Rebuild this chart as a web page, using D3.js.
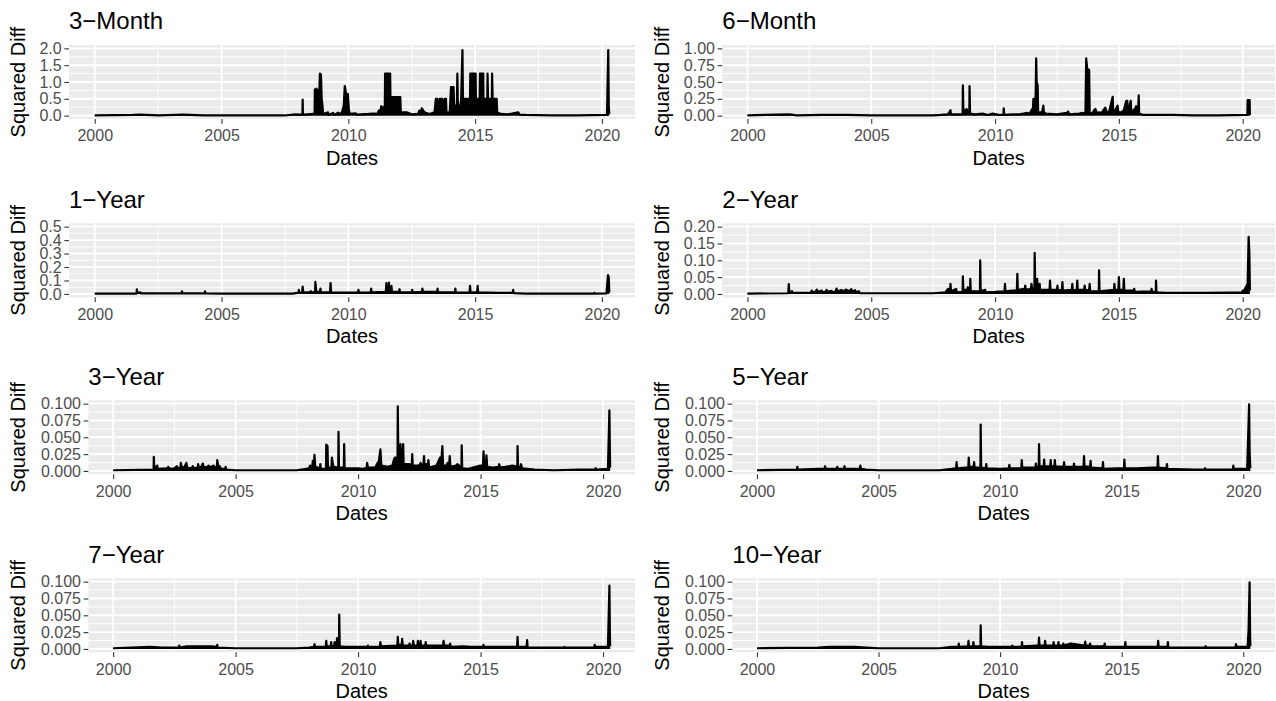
<!DOCTYPE html>
<html>
<head>
<meta charset="utf-8">
<script src="https://cdn.jsdelivr.net/npm/d3@7"></script>
<style>
  body { margin: 0; background: #fff; }
  svg { display: block; font-family: "Liberation Sans", Arial, Helvetica, sans-serif; }
</style>
</head>
<body>
<svg id="chart" width="1276" height="701"></svg>
<script>
// panel titles, in grid order (row by row, left then right)
var titles = ["3\u2212Month", "6\u2212Month", "1\u2212Year", "2\u2212Year",
              "3\u2212Year", "5\u2212Year", "7\u2212Year", "10\u2212Year"];

// x axis breaks (years)
var xBreaks = [2000, 2005, 2010, 2015, 2020];

// y axis break sets, one per panel
var yBreaks = [
    [0, 0.5, 1.0, 1.5, 2.0],
    [0, 0.25, 0.5, 0.75, 1.0],
    [0, 0.1, 0.2, 0.3, 0.4, 0.5],
    [0, 0.05, 0.1, 0.15, 0.2],
    [0, 0.025, 0.05, 0.075, 0.1],
    [0, 0.025, 0.05, 0.075, 0.1],
    [0, 0.025, 0.05, 0.075, 0.1],
    [0, 0.025, 0.05, 0.075, 0.1]
];
var yFormats = [".1f", ".2f", ".1f", ".2f", ".3f", ".3f", ".3f", ".3f"];

// squared differences, [decimal year, value]
var m3 = [[2000.0,0.01],[2001.5,0.02],[2001.8,0.03],[2002.5,0.01],[2003.5,0.03],[2004.3,0.01],[2005.0,0.005],[2007.5,0.005],[2007.9,0.04],[2008.1,0.03],
    [2008.19,0.03],[2008.2,0.48],[2008.21,0.03],[2008.4,0.04],[2008.6,0.05],
    [2008.67,0.05],[2008.68,0.78],[2008.72,0.7],[2008.75,0.8],[2008.78,0.6],[2008.82,0.75],[2008.84,0.3],[2008.86,0.8],[2008.88,1.25],[2008.92,1.22],[2008.95,0.5],[2008.98,0.3],[2009.0,0.1],[2009.02,0.05],
    [2009.2,0.1],[2009.22,0.02],[2009.4,0.08],[2009.45,0.02],[2009.6,0.09],[2009.62,0.03],[2009.75,0.1],
    [2009.82,0.3],[2009.86,0.88],[2009.9,0.7],[2009.94,0.5],[2009.98,0.65],[2010.02,0.2],[2010.05,0.05],
    [2010.3,0.07],[2010.32,0.03],[2010.5,0.04],[2010.8,0.05],[2011.0,0.06],[2011.15,0.05],[2011.2,0.15],[2011.25,0.08],[2011.3,0.28],[2011.38,0.2],
    [2011.44,0.3],[2011.45,1.25],[2011.65,1.25],[2011.66,0.55],[2012.05,0.55],[2012.07,0.1],
    [2012.3,0.1],[2012.5,0.04],[2012.75,0.05],[2012.8,0.15],[2012.85,0.08],[2012.9,0.22],[2013.0,0.1],[2013.2,0.05],[2013.4,0.1],
    [2013.45,0.5],[2013.5,0.5],[2013.52,0.3],[2013.6,0.5],[2013.7,0.5],[2013.72,0.3],[2013.8,0.5],[2013.85,0.5],[2013.87,0.1],
    [2014.0,0.1],[2014.05,0.85],[2014.15,0.85],[2014.17,0.3],[2014.28,0.3],[2014.3,1.25],[2014.32,0.3],[2014.42,0.3],[2014.45,0.5],[2014.5,1.95],[2014.52,0.5],
    [2014.8,0.5],[2014.81,1.25],[2015.02,1.25],[2015.03,0.5],[2015.18,0.5],[2015.19,1.25],[2015.32,1.25],[2015.33,0.5],[2015.48,0.5],[2015.49,1.25],[2015.51,0.5],
    [2015.66,0.5],[2015.67,1.25],[2015.69,0.5],[2015.85,0.5],[2015.87,0.1],
    [2016.0,0.05],[2016.3,0.04],[2016.7,0.1],[2016.75,0.03],[2017.0,0.02],[2018.0,0.01],[2019.0,0.01],[2020.2,0.02],[2020.25,1.95],[2020.27,0.3],[2020.29,0.05]];

var m6 = [[2000.0,0.005],[2001.7,0.02],[2002.0,0.005],[2003.0,0.01],[2004.0,0.01],[2005.0,0.003],[2007.5,0.003],[2007.8,0.01],[2008.1,0.02],[2008.2,0.08],[2008.22,0.02],[2008.4,0.02],
    [2008.69,0.02],[2008.7,0.45],[2008.72,0.1],[2008.8,0.05],[2008.85,0.1],[2008.9,0.03],[2008.96,0.03],[2008.97,0.44],[2008.99,0.03],
    [2009.2,0.02],[2009.5,0.03],[2009.7,0.01],[2009.9,0.03],[2010.2,0.01],[2010.34,0.01],[2010.35,0.11],[2010.37,0.01],[2010.7,0.02],[2011.0,0.02],[2011.3,0.04],
    [2011.4,0.03],[2011.5,0.1],[2011.52,0.05],[2011.55,0.25],[2011.58,0.12],[2011.64,0.3],[2011.66,0.85],[2011.68,0.5],[2011.72,0.45],[2011.74,0.05],[2011.9,0.05],[2011.95,0.15],[2011.97,0.05],[2012.05,0.03],
    [2012.5,0.02],[2012.9,0.04],[2012.95,0.06],[2013.0,0.02],[2013.4,0.03],[2013.5,0.04],[2013.65,0.03],[2013.68,0.85],[2013.72,0.7],[2013.8,0.68],[2013.82,0.05],[2013.9,0.02],
    [2014.0,0.08],[2014.05,0.1],[2014.1,0.04],[2014.2,0.05],[2014.3,0.04],[2014.45,0.12],[2014.5,0.06],[2014.6,0.05],[2014.75,0.28],[2014.77,0.05],[2014.85,0.08],[2014.95,0.15],[2014.98,0.05],
    [2015.1,0.05],[2015.2,0.08],[2015.3,0.22],[2015.34,0.22],[2015.36,0.05],[2015.48,0.22],[2015.5,0.05],[2015.65,0.1],[2015.7,0.14],[2015.78,0.05],[2015.8,0.3],[2015.82,0.03],
    [2016.0,0.01],[2016.5,0.01],[2017.18,0.01],[2018.0,0.003],[2019.0,0.003],[2020.19,0.01],[2020.2,0.23],[2020.28,0.23],[2020.29,0.01]];

var y1 = [[2000.0,0.003],[2001.65,0.003],[2001.66,0.035],[2001.68,0.006],[2001.8,0.012],[2001.82,0.004],[2003.43,0.004],[2003.44,0.02],[2003.46,0.004],
    [2004.34,0.004],[2004.35,0.02],[2004.37,0.004],[2005.0,0.002],[2007.8,0.002],[2008.0,0.008],[2008.04,0.008],[2008.05,0.03],[2008.07,0.01],
    [2008.18,0.01],[2008.2,0.055],[2008.22,0.012],[2008.5,0.012],[2008.52,0.02],[2008.54,0.01],[2008.69,0.015],[2008.7,0.09],[2008.72,0.05],[2008.74,0.015],
    [2008.88,0.015],[2008.9,0.04],[2008.92,0.012],[2009.28,0.012],[2009.3,0.08],[2009.32,0.012],[2009.7,0.01],[2010.38,0.01],[2010.4,0.03],[2010.42,0.01],
    [2010.88,0.01],[2010.9,0.04],[2010.92,0.012],[2011.48,0.015],[2011.5,0.08],[2011.52,0.02],[2011.58,0.02],[2011.6,0.085],[2011.62,0.02],[2011.68,0.02],
    [2011.7,0.06],[2011.72,0.015],[2012.0,0.015],[2012.02,0.035],[2012.04,0.012],[2012.5,0.012],[2012.52,0.03],[2012.54,0.012],[2012.9,0.015],[2012.92,0.04],
    [2012.94,0.015],[2013.5,0.015],[2013.52,0.04],[2013.54,0.012],[2014.2,0.012],[2014.22,0.04],[2014.24,0.01],[2014.78,0.012],[2014.8,0.06],[2014.82,0.012],
    [2015.08,0.012],[2015.1,0.06],[2015.12,0.012],[2015.5,0.01],[2015.9,0.008],[2016.48,0.008],[2016.5,0.03],[2016.52,0.006],[2017.0,0.003],[2019.0,0.003],
    [2019.68,0.003],[2019.7,0.008],[2019.72,0.003],[2020.18,0.004],[2020.24,0.14],[2020.27,0.12],[2020.29,0.01]];

var y2 = [[2000.0,0.001],[2001.65,0.002],[2001.67,0.029],[2001.69,0.004],[2001.8,0.008],[2001.82,0.003],[2002.55,0.003],[2002.6,0.01],[2002.65,0.005],
    [2002.75,0.006],[2002.8,0.013],[2002.85,0.006],[2003.0,0.01],[2003.05,0.005],[2003.15,0.006],[2003.2,0.012],[2003.25,0.006],[2003.4,0.009],[2003.45,0.005],
    [2003.55,0.007],[2003.6,0.016],[2003.65,0.007],[2003.8,0.012],[2003.85,0.007],[2004.0,0.013],[2004.05,0.007],[2004.2,0.014],[2004.25,0.006],[2004.35,0.011],
    [2004.4,0.004],[2004.5,0.008],[2004.55,0.002],[2005.0,0.002],[2007.5,0.002],[2008.0,0.005],[2008.1,0.015],[2008.12,0.006],[2008.18,0.008],[2008.2,0.03],
    [2008.22,0.008],[2008.43,0.015],[2008.45,0.005],[2008.69,0.006],[2008.7,0.052],[2008.72,0.012],[2008.88,0.012],[2008.9,0.02],[2008.92,0.008],[2008.99,0.01],
    [2009.0,0.045],[2009.02,0.008],[2009.39,0.008],[2009.4,0.1],[2009.42,0.008],[2009.6,0.012],[2009.62,0.005],[2010.0,0.006],[2010.38,0.008],[2010.4,0.03],
    [2010.42,0.008],[2010.7,0.01],[2010.88,0.01],[2010.9,0.06],[2010.92,0.012],[2011.2,0.015],[2011.22,0.025],[2011.24,0.012],[2011.45,0.015],[2011.47,0.03],
    [2011.5,0.015],[2011.59,0.02],[2011.6,0.122],[2011.62,0.03],[2011.7,0.045],[2011.72,0.015],[2011.8,0.03],[2011.82,0.012],[2012.2,0.012],[2012.22,0.04],
    [2012.24,0.012],[2012.5,0.012],[2012.52,0.025],[2012.54,0.01],[2012.7,0.012],[2012.72,0.035],[2012.74,0.01],[2013.1,0.012],[2013.12,0.03],[2013.14,0.01],
    [2013.3,0.012],[2013.32,0.04],[2013.34,0.012],[2013.6,0.012],[2013.62,0.025],[2013.64,0.01],[2013.8,0.012],[2013.82,0.03],[2013.84,0.008],[2014.19,0.008],
    [2014.2,0.07],[2014.22,0.008],[2014.8,0.012],[2014.82,0.03],[2014.84,0.012],[2014.98,0.012],[2015.0,0.05],[2015.02,0.012],[2015.18,0.012],[2015.2,0.045],
    [2015.22,0.01],[2015.6,0.01],[2015.62,0.015],[2015.64,0.006],[2016.3,0.008],[2016.32,0.015],[2016.34,0.006],[2016.49,0.006],[2016.5,0.04],[2016.52,0.005],
    [2016.8,0.004],[2017.5,0.003],[2018.5,0.003],[2019.5,0.004],[2019.98,0.004],[2020.0,0.01],[2020.02,0.005],[2020.2,0.03],[2020.24,0.17],[2020.27,0.12],[2020.29,0.01]];

var y3 = [[2000.0,0.001],[2001.65,0.002],[2001.66,0.021],[2001.68,0.004],[2001.8,0.008],[2001.82,0.003],[2002.2,0.004],[2002.25,0.006],[2002.3,0.003],
    [2002.5,0.004],[2002.6,0.007],[2002.65,0.004],[2002.75,0.005],[2002.76,0.012],[2002.8,0.006],[2002.9,0.005],[2002.99,0.012],[2003.02,0.005],[2003.2,0.004],
    [2003.25,0.007],[2003.3,0.004],[2003.45,0.005],[2003.47,0.01],[2003.5,0.005],[2003.6,0.006],[2003.66,0.011],[2003.7,0.005],[2003.85,0.006],[2003.9,0.008],
    [2003.95,0.005],[2004.1,0.008],[2004.13,0.005],[2004.23,0.006],[2004.25,0.016],[2004.3,0.006],[2004.35,0.007],[2004.4,0.003],[2004.57,0.003],[2004.59,0.006],
    [2004.62,0.002],[2005.0,0.001],[2007.5,0.001],[2008.0,0.004],[2008.04,0.008],[2008.06,0.004],[2008.13,0.006],[2008.15,0.015],[2008.2,0.012],[2008.22,0.024],
    [2008.25,0.006],[2008.44,0.004],[2008.46,0.01],[2008.48,0.003],[2008.69,0.003],[2008.7,0.039],[2008.75,0.037],[2008.77,0.005],[2008.91,0.005],[2008.93,0.02],
    [2008.96,0.012],[2009.0,0.006],[2009.19,0.005],[2009.2,0.058],[2009.22,0.005],[2009.42,0.005],[2009.43,0.04],[2009.45,0.004],[2009.7,0.004],[2010.0,0.004],
    [2010.2,0.003],[2010.35,0.005],[2010.37,0.012],[2010.4,0.005],[2010.7,0.005],[2010.8,0.012],[2010.85,0.015],[2010.91,0.032],[2010.95,0.008],[2011.2,0.006],
    [2011.4,0.008],[2011.45,0.015],[2011.5,0.02],[2011.61,0.02],[2011.62,0.096],[2011.64,0.03],[2011.7,0.02],[2011.73,0.04],[2011.76,0.015],[2011.8,0.018],
    [2011.84,0.04],[2011.86,0.01],[2012.0,0.01],[2012.1,0.01],[2012.19,0.008],[2012.21,0.025],[2012.23,0.008],[2012.5,0.008],[2012.55,0.012],[2012.6,0.008],
    [2012.67,0.01],[2012.69,0.022],[2012.71,0.01],[2012.85,0.01],[2012.87,0.016],[2012.9,0.005],[2013.2,0.008],[2013.35,0.02],[2013.4,0.015],[2013.44,0.037],
    [2013.47,0.008],[2013.6,0.008],[2013.65,0.012],[2013.72,0.01],[2013.74,0.022],[2013.77,0.006],[2014.0,0.008],[2014.05,0.01],[2014.22,0.005],[2014.23,0.038],
    [2014.25,0.004],[2014.5,0.003],[2014.8,0.006],[2015.0,0.008],[2015.1,0.008],[2015.12,0.029],[2015.15,0.008],[2015.22,0.008],[2015.24,0.023],[2015.27,0.006],
    [2015.5,0.005],[2015.74,0.006],[2015.76,0.01],[2015.8,0.005],[2016.0,0.006],[2016.3,0.008],[2016.5,0.006],[2016.51,0.037],[2016.53,0.005],[2016.63,0.006],
    [2016.65,0.01],[2016.7,0.004],[2017.2,0.002],[2018.0,0.001],[2019.0,0.002],[2019.68,0.002],[2019.7,0.004],[2019.72,0.002],[2020.2,0.003],[2020.26,0.09],
    [2020.28,0.026],[2020.29,0.005]];

var y5 = [[2000.0,0.001],[2001.64,0.002],[2001.66,0.006],[2001.68,0.002],[2002.5,0.003],[2002.78,0.003],[2002.8,0.007],[2002.83,0.003],[2003.28,0.003],
    [2003.3,0.006],[2003.33,0.003],[2003.58,0.003],[2003.6,0.007],[2003.63,0.003],[2004.23,0.003],[2004.25,0.008],[2004.28,0.003],[2004.5,0.002],[2005.0,0.001],
    [2007.5,0.001],[2008.0,0.003],[2008.19,0.004],[2008.21,0.013],[2008.23,0.004],[2008.6,0.005],[2008.69,0.005],[2008.71,0.02],[2008.73,0.006],[2008.91,0.006],
    [2008.93,0.013],[2008.95,0.005],[2009.19,0.005],[2009.2,0.069],[2009.22,0.005],[2009.41,0.004],[2009.43,0.01],[2009.45,0.004],[2010.0,0.003],[2010.36,0.004],
    [2010.38,0.009],[2010.4,0.004],[2010.87,0.004],[2010.89,0.016],[2010.91,0.005],[2011.45,0.005],[2011.47,0.011],[2011.49,0.006],[2011.59,0.006],[2011.6,0.04],
    [2011.62,0.007],[2011.79,0.007],[2011.81,0.017],[2011.83,0.007],[2012.06,0.007],[2012.08,0.016],[2012.1,0.007],[2012.23,0.007],[2012.25,0.016],[2012.27,0.007],
    [2012.61,0.006],[2012.63,0.013],[2012.65,0.006],[2013.02,0.006],[2013.04,0.011],[2013.06,0.006],[2013.43,0.006],[2013.45,0.022],[2013.47,0.007],[2013.7,0.006],
    [2013.72,0.015],[2013.74,0.005],[2014.21,0.004],[2014.23,0.013],[2014.25,0.003],[2014.8,0.004],[2015.09,0.004],[2015.11,0.017],[2015.13,0.004],[2015.6,0.004],
    [2016.3,0.005],[2016.47,0.005],[2016.49,0.022],[2016.51,0.005],[2016.84,0.004],[2016.86,0.01],[2016.88,0.003],[2018.0,0.002],[2018.41,0.002],[2018.43,0.004],
    [2018.45,0.002],[2019.57,0.002],[2019.59,0.008],[2019.61,0.003],[2020.16,0.003],[2020.2,0.05],[2020.24,0.099],[2020.26,0.03],[2020.29,0.004]];

var y7 = [[2000.0,0.001],[2001.5,0.003],[2002.0,0.002],[2002.68,0.002],[2002.7,0.005],[2002.72,0.002],[2003.0,0.004],[2003.5,0.004],[2004.0,0.004],
    [2004.23,0.003],[2004.25,0.006],[2004.27,0.002],[2005.0,0.001],[2007.5,0.001],[2008.0,0.002],[2008.2,0.003],[2008.22,0.007],[2008.24,0.003],[2008.68,0.003],
    [2008.7,0.012],[2008.72,0.004],[2008.88,0.004],[2008.9,0.01],[2008.92,0.004],[2009.02,0.004],[2009.04,0.01],[2009.06,0.004],[2009.12,0.004],[2009.14,0.016],
    [2009.16,0.004],[2009.22,0.004],[2009.23,0.051],[2009.25,0.004],[2009.5,0.003],[2010.0,0.003],[2010.38,0.003],[2010.4,0.005],[2010.42,0.003],[2010.89,0.003],
    [2010.91,0.01],[2010.93,0.004],[2011.6,0.005],[2011.62,0.018],[2011.64,0.006],[2011.78,0.006],[2011.8,0.015],[2011.82,0.005],[2012.08,0.005],[2012.1,0.008],
    [2012.12,0.005],[2012.23,0.005],[2012.25,0.012],[2012.27,0.005],[2012.42,0.005],[2012.44,0.012],[2012.46,0.005],[2012.53,0.005],[2012.55,0.012],[2012.57,0.005],
    [2012.74,0.005],[2012.76,0.01],[2012.78,0.005],[2013.2,0.005],[2013.47,0.005],[2013.49,0.012],[2013.51,0.005],[2013.74,0.005],[2013.76,0.008],[2013.78,0.003],
    [2014.3,0.004],[2014.6,0.003],[2015.1,0.003],[2015.12,0.006],[2015.14,0.003],[2016.0,0.003],[2016.49,0.003],[2016.51,0.018],[2016.53,0.003],[2016.88,0.003],
    [2016.9,0.013],[2016.92,0.002],[2018.0,0.002],[2018.41,0.002],[2018.43,0.003],[2018.45,0.002],[2019.64,0.002],[2019.66,0.006],[2019.68,0.003],[2020.2,0.003],
    [2020.26,0.094],[2020.28,0.02],[2020.29,0.004]];

var y10 = [[2000.0,0.001],[2002.5,0.002],[2003.0,0.003],[2004.0,0.003],[2004.5,0.002],[2005.0,0.001],[2007.5,0.001],[2008.0,0.003],[2008.28,0.003],
    [2008.3,0.008],[2008.32,0.003],[2008.68,0.004],[2008.7,0.012],[2008.72,0.004],[2008.88,0.004],[2008.9,0.01],[2008.92,0.004],[2009.19,0.004],[2009.2,0.035],
    [2009.22,0.004],[2009.5,0.003],[2010.0,0.003],[2010.48,0.003],[2010.5,0.005],[2010.52,0.003],[2010.88,0.003],[2010.9,0.01],[2010.92,0.004],[2011.5,0.005],
    [2011.58,0.005],[2011.6,0.017],[2011.62,0.005],[2011.83,0.005],[2011.85,0.012],[2011.87,0.005],[2012.18,0.005],[2012.2,0.01],[2012.22,0.005],[2012.38,0.005],
    [2012.4,0.01],[2012.42,0.005],[2012.58,0.005],[2012.6,0.008],[2012.62,0.005],[2012.9,0.008],[2013.48,0.005],[2013.5,0.011],[2013.52,0.005],[2013.68,0.005],
    [2013.7,0.008],[2013.72,0.004],[2014.28,0.004],[2014.3,0.008],[2014.32,0.003],[2015.13,0.003],[2015.15,0.01],[2015.17,0.003],[2016.0,0.003],[2016.48,0.003],
    [2016.5,0.012],[2016.52,0.003],[2016.88,0.003],[2016.9,0.01],[2016.92,0.002],[2018.0,0.002],[2018.43,0.002],[2018.45,0.004],[2018.47,0.002],[2019.68,0.002],
    [2019.7,0.007],[2019.72,0.003],[2020.18,0.003],[2020.22,0.03],[2020.26,0.099],[2020.28,0.02],[2020.29,0.004]];

var series = [m3, m6, y1, y2, y3, y5, y7, y10];

//============================================================
// Layout (pixel geometry of the 4 x 2 grid)
//------------------------------------------------------------
var rowTop = [45, 223.3, 400.3, 578.3],
    panelH = 74,
    colLeft = [[69, 722.3], [69, 722.3], [88.3, 732.3], [88.3, 732.3]],
    colRight = [635, 1275],
    yTitleX = [25, 669],
    tickLen = 4.7;

var svg = d3.select('#chart');

series.forEach(function(data, i) {
    var row = Math.floor(i / 2), col = i % 2;
    var x0 = colLeft[row][col], x1 = colRight[col];
    var top = rowTop[row], bottom = top + panelH;
    var yb = yBreaks[i], yMax = yb[yb.length - 1];

    // ggplot style 5% expansion
    var xExt = d3.extent(data, function(d) { return d[0]; });
    var xPad = (xExt[1] - xExt[0]) * 0.05;
    var x = d3.scaleLinear().domain([xExt[0] - xPad, xExt[1] + xPad]).range([x0, x1]);
    var y = d3.scaleLinear().domain([-0.05 * yMax, 1.05 * yMax]).range([bottom, top]);

    var g = svg.append('g');

    g.append('rect')
        .attr('x', x0).attr('y', top)
        .attr('width', x1 - x0).attr('height', panelH)
        .style('fill', '#EBEBEB');

    // minor grid
    var step = yb[1] - yb[0];
    var yMinor = yb.slice(0, -1).map(function(v) { return v + step / 2; });
    var xMinor = xBreaks.slice(0, -1).map(function(v) { return v + 2.5; });

    g.selectAll('line.ymin').data(yMinor).enter().append('line')
        .attr('x1', x0).attr('x2', x1)
        .attr('y1', y).attr('y2', y)
        .style('stroke', '#fff').style('stroke-width', 0.9);
    g.selectAll('line.xmin').data(xMinor).enter().append('line')
        .attr('y1', top).attr('y2', bottom)
        .attr('x1', x).attr('x2', x)
        .style('stroke', '#fff').style('stroke-width', 0.9);

    // major grid
    g.selectAll('line.ymaj').data(yb).enter().append('line')
        .attr('x1', x0).attr('x2', x1)
        .attr('y1', y).attr('y2', y)
        .style('stroke', '#fff').style('stroke-width', 1.9);
    g.selectAll('line.xmaj').data(xBreaks).enter().append('line')
        .attr('y1', top).attr('y2', bottom)
        .attr('x1', x).attr('x2', x)
        .style('stroke', '#fff').style('stroke-width', 1.9);

    // the series (filled underneath so the dense daily swings read as solid)
    var area = d3.area()
        .x(function(d) { return x(d[0]); })
        .y0(y(0))
        .y1(function(d) { return y(d[1]); });
    var line = d3.line()
        .x(function(d) { return x(d[0]); })
        .y(function(d) { return y(d[1]); });

    g.append('path').datum(data)
        .attr('d', area)
        .style('fill', '#000');
    g.append('path').datum(data)
        .attr('d', line)
        .style('fill', 'none')
        .style('stroke', '#000')
        .style('stroke-width', 2.2)
        .style('stroke-linejoin', 'round');

    // axes
    var yAxis = d3.axisLeft(y).tickValues(yb)
        .tickFormat(d3.format(yFormats[i]))
        .tickSize(tickLen).tickPadding(2.6);
    var xAxis = d3.axisBottom(x).tickValues(xBreaks)
        .tickFormat(d3.format('d'))
        .tickSize(tickLen).tickPadding(6.4);

    var ya = g.append('g').attr('transform', 'translate(' + x0 + ',0)').call(yAxis);
    var xa = g.append('g').attr('transform', 'translate(0,' + bottom + ')').call(xAxis);

    [ya, xa].forEach(function(a) {
        a.select('.domain').remove();
        a.selectAll('.tick line').style('stroke', '#333333').style('stroke-width', 1.1);
        a.selectAll('.tick text')
            .style('fill', '#4D4D4D')
            .style('font-size', '16px')
            .style('font-family', '"Liberation Sans", Arial, sans-serif');
    });

    // titles
    g.append('text')
        .attr('x', x0).attr('y', top - 15.8)
        .style('font-size', '24px')
        .style('fill', '#000')
        .text(titles[i]);

    g.append('text')
        .attr('x', (x0 + x1) / 2).attr('y', bottom + 46)
        .attr('text-anchor', 'middle')
        .style('font-size', '20px')
        .text('Dates');

    g.append('text')
        .attr('transform', 'translate(' + yTitleX[col] + ',' + (top + panelH / 2) + ') rotate(-90)')
        .attr('text-anchor', 'middle')
        .style('font-size', '20px')
        .text('Squared Diff');
});
</script>
</body>
</html>
